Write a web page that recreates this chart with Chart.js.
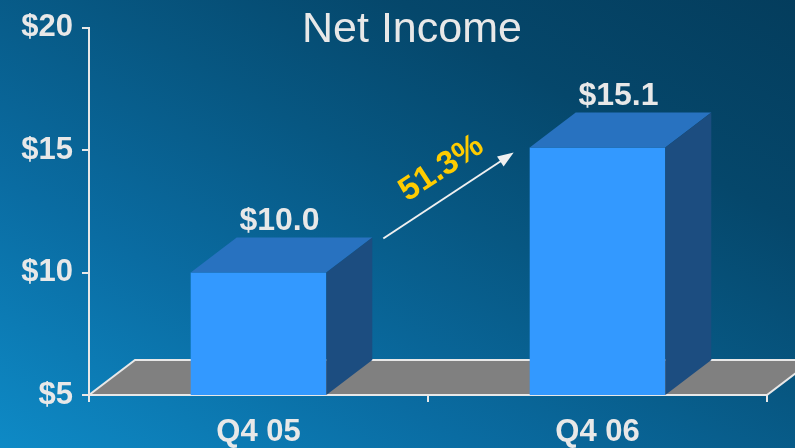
<!DOCTYPE html>
<html>
<head>
<meta charset="utf-8">
<script src="https://cdn.jsdelivr.net/npm/chart.js@4"></script>
<style>
  html, body { margin: 0; padding: 0; }
  body {
    width: 795px; height: 448px; overflow: hidden;
    background: linear-gradient(to top right, #0E8AC6 0%, #0A6CA2 30%, #075782 55%, #05476B 75%, #043D5D 100%);
  }
  canvas { display: block; }
</style>
</head>
<body>
<canvas id="canvas" width="795" height="448"></canvas>
<script>
// datos del grafico
const categorias = ['Q4 05', 'Q4 06'];
const valores = [10.0, 15.1];
const etiquetasValor = ['$10.0', '$15.1'];
const ticksY = [5, 10, 15, 20];
const titulo = 'Net Income';
const crecimiento = '51.3%';

const textoClaro = '#e8e8e8';
const profX = 46;
const profY = 35;

// fondo 3D (piso), caras superiores/laterales, etiquetas y flecha
const plugin3d = {
  id: 'plugin3d',
  beforeDatasetsDraw(chart) {
    const { ctx, chartArea } = chart;
    const b = chartArea.bottom, l = chartArea.left, r = chartArea.right;
    ctx.save();
    ctx.beginPath();
    ctx.moveTo(l, b);
    ctx.lineTo(l + profX, b - profY);
    ctx.lineTo(r + profX, b - profY);
    ctx.lineTo(r, b);
    ctx.closePath();
    ctx.fillStyle = '#808080';
    ctx.fill();
    ctx.strokeStyle = textoClaro;
    ctx.lineWidth = 2;
    ctx.stroke();
    ctx.restore();
  },
  afterDatasetsDraw(chart) {
    const { ctx } = chart;
    const barras = chart.getDatasetMeta(0).data;
    const base = chart.scales.y.getPixelForValue(ticksY[0]);
    ctx.save();
    barras.forEach((bar, i) => {
      const izq = bar.x - bar.width / 2;
      const der = bar.x + bar.width / 2;
      // cara superior
      ctx.beginPath();
      ctx.moveTo(izq, bar.y);
      ctx.lineTo(izq + profX, bar.y - profY);
      ctx.lineTo(der + profX, bar.y - profY);
      ctx.lineTo(der, bar.y);
      ctx.closePath();
      ctx.fillStyle = '#2872C0';
      ctx.fill();
      // cara lateral
      ctx.beginPath();
      ctx.moveTo(der, bar.y);
      ctx.lineTo(der + profX, bar.y - profY);
      ctx.lineTo(der + profX, base - profY);
      ctx.lineTo(der, base);
      ctx.closePath();
      ctx.fillStyle = '#1C4D80';
      ctx.fill();
      // etiqueta de valor
      ctx.font = 'bold 32px Arial, "Liberation Sans", sans-serif';
      ctx.fillStyle = textoClaro;
      ctx.textAlign = 'center';
      ctx.textBaseline = 'middle';
      ctx.fillText(etiquetasValor[i], bar.x + profX / 2 - 2, bar.y - profY - 16);
    });

    // flecha de crecimiento
    const b0 = barras[0], b1 = barras[1];
    const x1 = b0.x + b0.width / 2 + profX + 11, y1 = b0.y - profY + 1;
    const x2 = b1.x - b1.width / 2 - 16, y2 = b1.y + 5;
    const ang = Math.atan2(y2 - y1, x2 - x1);
    ctx.strokeStyle = '#f0f0f0';
    ctx.fillStyle = '#f0f0f0';
    ctx.lineWidth = 2;
    ctx.beginPath();
    ctx.moveTo(x1, y1);
    ctx.lineTo(x2 - 12 * Math.cos(ang), y2 - 12 * Math.sin(ang));
    ctx.stroke();
    ctx.beginPath();
    ctx.moveTo(x2, y2);
    ctx.lineTo(x2 - 16 * Math.cos(ang) + 6 * Math.sin(ang), y2 - 16 * Math.sin(ang) - 6 * Math.cos(ang));
    ctx.lineTo(x2 - 16 * Math.cos(ang) - 6 * Math.sin(ang), y2 - 16 * Math.sin(ang) + 6 * Math.cos(ang));
    ctx.closePath();
    ctx.fill();

    ctx.translate((x1 + x2) / 2 - 7, (y1 + y2) / 2 - 27);
    ctx.rotate(ang);
    ctx.font = 'bold 33px Arial, "Liberation Sans", sans-serif';
    ctx.fillStyle = '#FFCC00';
    ctx.textAlign = 'center';
    ctx.textBaseline = 'middle';
    ctx.fillText(crecimiento, 0, 0);
    ctx.restore();
  },
  afterDraw(chart) {
    const { ctx } = chart;
    ctx.save();
    ctx.font = '43px Arial, "Liberation Sans", sans-serif';
    ctx.fillStyle = textoClaro;
    ctx.textAlign = 'center';
    ctx.textBaseline = 'alphabetic';
    ctx.fillText(titulo, 412, 42);
    ctx.restore();
  }
};

Chart.defaults.font.family = 'Arial, "Liberation Sans", sans-serif';

new Chart(document.getElementById('canvas'), {
  type: 'bar',
  data: {
    labels: categorias,
    datasets: [{
      data: valores,
      backgroundColor: '#3399FF',
      borderWidth: 0,
      barPercentage: 0.4,
      categoryPercentage: 1
    }]
  },
  options: {
    responsive: false,
    animation: false,
    layout: { padding: { top: 22, right: 28, left: 0, bottom: 0 } },
    plugins: { legend: { display: false }, tooltip: { enabled: false } },
    scales: {
      x: {
        afterFit: (scale) => { scale.height = 53; },
        grid: { drawOnChartArea: false, offset: true, tickLength: 7, color: textoClaro, lineWidth: 2 },
        border: { color: textoClaro, width: 2 },
        ticks: { color: textoClaro, padding: 12, font: { size: 31, weight: 'bold' } }
      },
      y: {
        min: ticksY[0],
        max: ticksY[ticksY.length - 1],
        afterFit: (scale) => { scale.width = 89; },
        afterBuildTicks: (scale) => { scale.ticks = ticksY.map(v => ({ value: v })); },
        grid: { drawOnChartArea: false, tickLength: 7, color: textoClaro, lineWidth: 2 },
        border: { color: textoClaro, width: 2 },
        ticks: {
          color: textoClaro,
          padding: 9,
          font: { size: 31, weight: 'bold' },
          callback: (v) => '$' + v
        }
      }
    }
  },
  plugins: [plugin3d]
});
</script>
</body>
</html>
